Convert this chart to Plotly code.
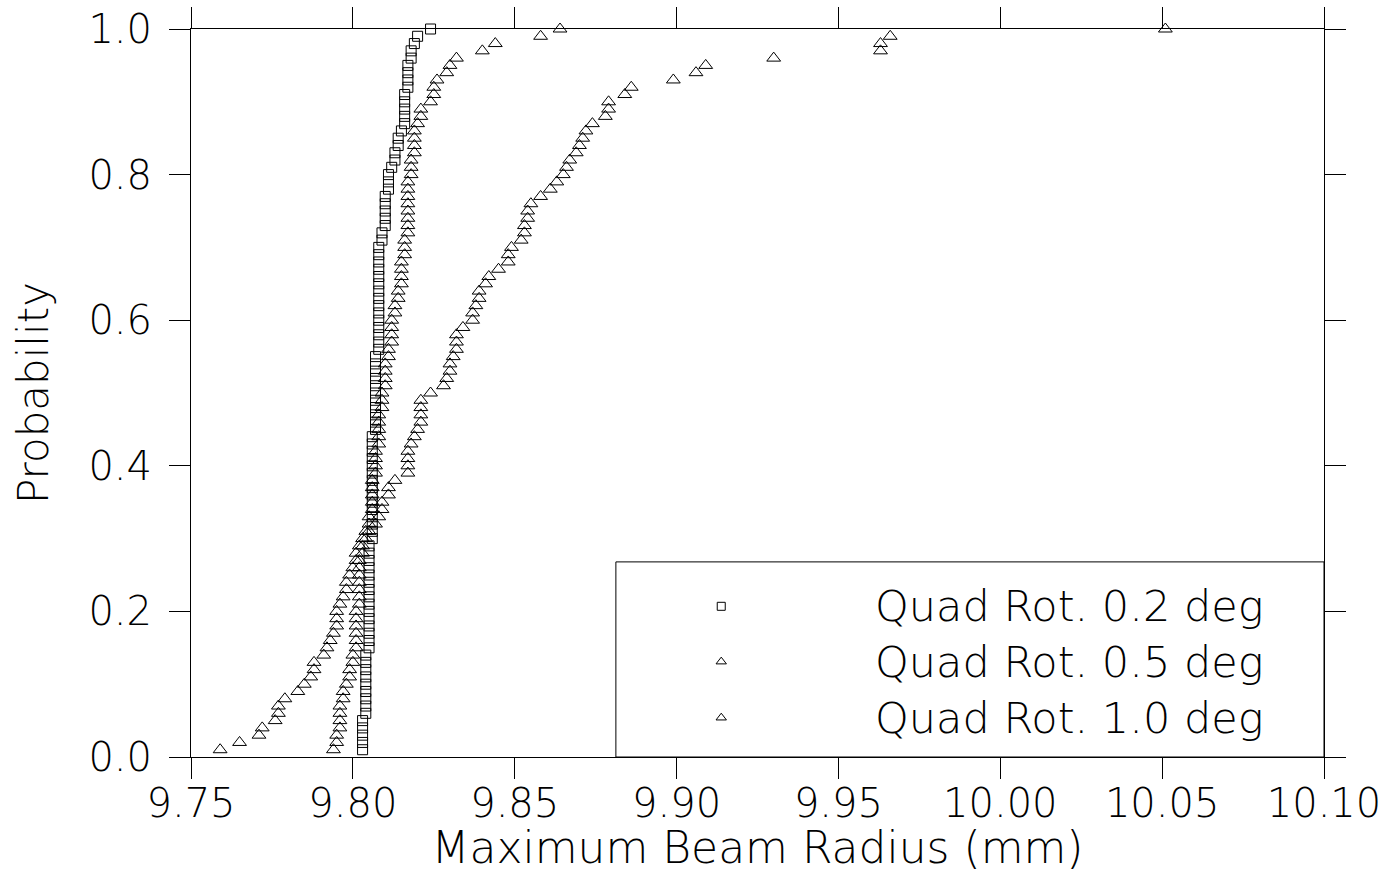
import numpy as np
import plotly.graph_objects as go

# Maximum beam radius (mm) for 100 seeds per quadrupole rotation error
ROT_02 = [
    9.803, 9.803, 9.803, 9.803, 9.803,
    9.804, 9.804, 9.804, 9.804, 9.804, 9.804, 9.804, 9.804, 9.804,
    9.805, 9.805, 9.805, 9.805, 9.805, 9.805, 9.805, 9.805, 9.805, 9.805,
    9.805, 9.805, 9.805, 9.805, 9.805,
    9.806, 9.806, 9.806, 9.806, 9.806, 9.806, 9.806, 9.806, 9.806, 9.806,
    9.806, 9.806, 9.806, 9.806, 9.806,
    9.807, 9.807, 9.807, 9.807, 9.807, 9.807, 9.807, 9.807, 9.807, 9.807, 9.807,
    9.808, 9.808, 9.808, 9.808, 9.808, 9.808, 9.808, 9.808, 9.808, 9.808,
    9.808, 9.808, 9.808, 9.808, 9.808,
    9.809, 9.809,
    9.810, 9.810, 9.810, 9.810, 9.810,
    9.811, 9.811, 9.811,
    9.812,
    9.813, 9.813,
    9.814, 9.814,
    9.815,
    9.816, 9.816, 9.816, 9.816, 9.816,
    9.817, 9.817, 9.817, 9.817,
    9.818, 9.818,
    9.819, 9.820, 9.824,
]

ROT_05 = [
    9.794, 9.795, 9.795, 9.796, 9.796, 9.796, 9.796, 9.797, 9.797, 9.798,
    9.799, 9.799, 9.800, 9.800, 9.801, 9.801, 9.801, 9.801, 9.801, 9.801,
    9.802, 9.802, 9.802, 9.802, 9.802, 9.802, 9.802, 9.803, 9.803, 9.804,
    9.804, 9.805, 9.805, 9.806, 9.806, 9.806, 9.806, 9.806, 9.807, 9.807,
    9.807, 9.807, 9.808, 9.808, 9.808, 9.808, 9.808, 9.809, 9.809, 9.809,
    9.810, 9.810, 9.810, 9.810, 9.811, 9.811, 9.812, 9.812, 9.812, 9.812,
    9.813, 9.813, 9.814, 9.814, 9.815, 9.815, 9.815, 9.815, 9.816, 9.816,
    9.816, 9.817, 9.817, 9.817, 9.817, 9.817, 9.817, 9.817, 9.817, 9.818,
    9.818, 9.818, 9.819, 9.819, 9.819, 9.819, 9.820, 9.821, 9.821, 9.824,
    9.825, 9.825, 9.826, 9.829, 9.830, 9.832, 9.840, 9.844, 9.858, 9.864,
]

ROT_10 = [
    9.759, 9.765, 9.771, 9.772, 9.776, 9.777, 9.777, 9.779, 9.783, 9.785,
    9.787, 9.788, 9.788, 9.791, 9.792, 9.793, 9.794, 9.795, 9.795, 9.795,
    9.796, 9.797, 9.798, 9.798, 9.799, 9.800, 9.801, 9.801, 9.802, 9.803,
    9.805, 9.807, 9.808, 9.809, 9.809, 9.811, 9.811, 9.813, 9.817, 9.817,
    9.817, 9.817, 9.818, 9.819, 9.820, 9.821, 9.821, 9.821, 9.821, 9.824,
    9.828, 9.829, 9.830, 9.830, 9.831, 9.832, 9.832, 9.832, 9.834, 9.837,
    9.837, 9.838, 9.839, 9.839, 9.841, 9.842, 9.845, 9.848, 9.848, 9.849,
    9.852, 9.853, 9.853, 9.854, 9.854, 9.855, 9.858, 9.861, 9.863, 9.865,
    9.866, 9.867, 9.869, 9.870, 9.871, 9.872, 9.874, 9.878, 9.879, 9.879,
    9.884, 9.886, 9.899, 9.906, 9.909, 9.930, 9.963, 9.963, 9.966, 10.051,
]

SERIES_NAMES = ["Quad Rot. 0.2 deg", "Quad Rot. 0.5 deg", "Quad Rot. 1.0 deg"]
SERIES_SYMBOLS = ["square-open", "triangle-up-open", "triangle-up-open"]

X_TICKS = [9.75, 9.80, 9.85, 9.90, 9.95, 10.00, 10.05, 10.10]
X_TICK_TEXT = ["9.75", "9.80", "9.85", "9.90", "9.95", "10.00", "10.05", "10.10"]
Y_TICKS = [0.0, 0.2, 0.4, 0.6, 0.8, 1.0]
Y_TICK_TEXT = ["0.0", "0.2", "0.4", "0.6", "0.8", "1.0"]

FONT = dict(family="DejaVu Sans Light, DejaVu Sans ExtraLight, DejaVu Sans",
            color="black", weight=200)


def ecdf(values):
    """Empirical cumulative distribution: sorted samples vs. rank / N."""
    xs = np.sort(np.asarray(values, dtype=float))
    ps = np.arange(1, xs.size + 1) / xs.size
    return xs, ps


fig = go.Figure()

for name, vals, sym in zip(SERIES_NAMES, [ROT_02, ROT_05, ROT_10], SERIES_SYMBOLS):
    xs, ps = ecdf(vals)
    fig.add_trace(go.Scatter(
        x=xs, y=ps, mode="markers", name=name, showlegend=False,
        cliponaxis=False,
        marker=dict(symbol=sym, size=10 if sym.startswith("square") else 12,
                    color="black", line=dict(width=1, color="black")),
    ))

# Legend box drawn on an overlay axis spanning the plot area (0..1 both ways)
LEG_X0, LEG_Y1 = 0.375, 0.268
LEG_MARK_X = 0.468
LEG_TEXT_X = 0.602
LEG_ROWS = [0.207, 0.131, 0.054]

for name, sym, row in zip(SERIES_NAMES, SERIES_SYMBOLS, LEG_ROWS):
    fig.add_trace(go.Scatter(
        x=[LEG_MARK_X], y=[row], xaxis="x2", yaxis="y2", mode="markers",
        showlegend=False, hoverinfo="skip", cliponaxis=False,
        marker=dict(symbol=sym, size=8 if sym.startswith("square") else 9,
                    color="black", line=dict(width=1, color="black")),
    ))
    fig.add_annotation(
        x=LEG_TEXT_X, y=row, xref="paper", yref="paper", text=name,
        showarrow=False, xanchor="left", yanchor="middle",
        font=dict(size=43, **FONT),
    )

fig.add_shape(type="rect", xref="paper", yref="paper",
              x0=LEG_X0, x1=1.0, y0=0.0, y1=LEG_Y1,
              line=dict(color="black", width=1), fillcolor="white", layer="below")

axis_common = dict(
    showline=True, linecolor="black", linewidth=1, mirror="ticks",
    ticks="outside", ticklen=21, tickwidth=1, tickcolor="black",
    showgrid=False, zeroline=False,
    tickfont=dict(size=40, **FONT),
)

fig.update_layout(
    width=1386, height=873,
    margin=dict(l=191, r=62, t=29, b=116, autoexpand=False),
    paper_bgcolor="white", plot_bgcolor="rgba(0,0,0,0)",
    showlegend=False,
    xaxis=dict(range=[9.75, 10.10], tickvals=X_TICKS, ticktext=X_TICK_TEXT,
               ticklabelstandoff=-10,
               title=dict(text="Maximum Beam Radius (mm)", font=dict(size=44, **FONT),
                          standoff=0),
               **axis_common),
    yaxis=dict(range=[0, 1], tickvals=Y_TICKS, ticktext=Y_TICK_TEXT,
               ticklabelstandoff=9,
               title=dict(text="Probability", font=dict(size=42, **FONT), standoff=26),
               **axis_common),
    xaxis2=dict(overlaying="x", range=[0, 1], visible=False),
    yaxis2=dict(overlaying="y", range=[0, 1], visible=False),
)

fig.write_html("out.html")
